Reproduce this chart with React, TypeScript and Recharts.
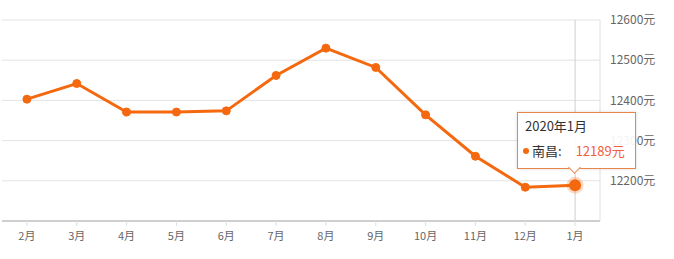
import { LineChart, Line, XAxis, YAxis, CartesianGrid, Tooltip } from "recharts";

const months = ["2月", "3月", "4月", "5月", "6月", "7月", "8月", "9月", "10月", "11月", "12月", "1月"];
const prices = [12403, 12442, 12371, 12371, 12374, 12462, 12530, 12482, 12364, 12261, 12184, 12189];
const yTicks = [12200, 12300, 12400, 12500, 12600];
const tooltipTitle = "2020年1月";
const cityName = "南昌";

const data = months.map((m, i) => ({ month: m, price: prices[i] }));

const ORANGE = "#f4690f";
const FONT = '"Noto Sans CJK SC", "Microsoft YaHei", sans-serif';

function TipBox({ active, payload }: { active?: boolean; payload?: Array<{ value: number }> }) {
  if (!active || !payload?.length) return null;
  return (
    <div style={{ position: "relative", fontFamily: FONT }}>
      <div
        style={{
          width: 117,
          height: 55,
          boxSizing: "content-box",
          border: "1px solid #e9844a",
          background: "rgba(255,255,255,0.92)",
          boxShadow: "0 0 3px rgba(0,0,0,0.15)",
          padding: 0,
        }}
      >
        <div style={{ position: "absolute", left: 8, top: 5, fontSize: 13, color: "#333", lineHeight: "18px" }}>
          {tooltipTitle}
        </div>
        <div style={{ position: "absolute", left: 6, top: 30, fontSize: 13, lineHeight: "18px", whiteSpace: "nowrap" }}>
          <span
            style={{
              display: "inline-block",
              width: 6,
              height: 6,
              borderRadius: 3,
              background: ORANGE,
              marginRight: 3,
              verticalAlign: "middle",
              position: "relative",
              top: -1,
            }}
          />
          <span style={{ color: "#333" }}>{cityName}:</span>
          <span style={{ color: "#f2603c", marginLeft: 14 }}>{payload[0].value}元</span>
        </div>
      </div>
      <div
        style={{
          position: "absolute",
          left: 53,
          top: 51,
          width: 8,
          height: 8,
          background: "#fff",
          borderRight: "1px solid #e9844a",
          borderBottom: "1px solid #e9844a",
          transform: "rotate(45deg)",
        }}
      />
    </div>
  );
}

export default function App() {
  return (
    <div style={{ position: "absolute", left: 0, top: 0, width: 674, height: 259, background: "#fff" }}>
      <LineChart width={674} height={259} data={data} margin={{ top: 20, right: 0, bottom: 0, left: 2 }}>
        <CartesianGrid vertical={false} stroke="#e3e3e3" />
        <XAxis
          dataKey="month"
          scale="band"
          axisLine={{ stroke: "#cfcfcf", strokeWidth: 2 }}
          tickLine={{ stroke: "#e0e0e0" }}
          tickSize={5}
          tickMargin={6}
          height={38}
          tick={{ fontSize: 11, fill: "#666", fontFamily: FONT }}
          interval={0}
        />
        <YAxis
          orientation="right"
          domain={[12100, 12600]}
          ticks={yTicks}
          width={74}
          axisLine={{ stroke: "#e0e0e0" }}
          tickLine={false}
          tickSize={0}
          tickMargin={10}
          tick={{ fontSize: 12, fill: "#666", fontFamily: FONT }}
          tickFormatter={(v: number) => `${v}元`}
        />
        <Tooltip
          content={<TipBox />}
          active
          defaultIndex={11}
          position={{ x: 517, y: 112 }}
          cursor={{ stroke: "#cfcfcf", strokeWidth: 1 }}
          isAnimationActive={false}
          wrapperStyle={{ outline: "none" }}
        />
        <Line
          type="linear"
          dataKey="price"
          stroke={ORANGE}
          strokeWidth={3}
          dot={{ r: 4, fill: ORANGE, stroke: ORANGE, strokeWidth: 1 }}
          activeDot={{ r: 6, fill: ORANGE, stroke: "rgba(244,105,15,0.25)", strokeWidth: 5 }}
          isAnimationActive={false}
        />
      </LineChart>
    </div>
  );
}
